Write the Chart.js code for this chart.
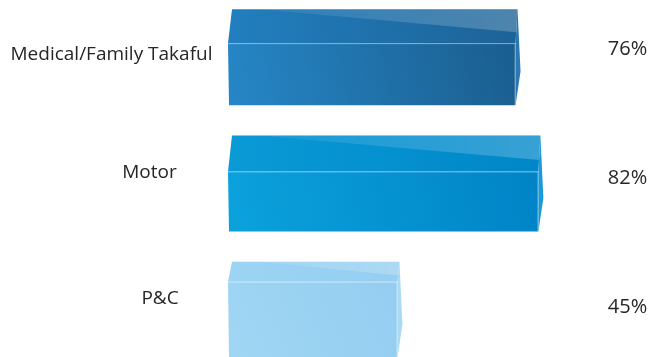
<!DOCTYPE html>
<html>
<head>
<meta charset="utf-8">
<script src="https://cdn.jsdelivr.net/npm/chart.js@4.4.1/dist/chart.umd.min.js"></script>
<style>
    html, body { margin: 0; padding: 0; background: #fff; overflow: hidden; }
    #wrap { position: relative; width: 654px; height: 357px; overflow: hidden; }
    #myChart { position: absolute; left: 0; top: -10px; }
</style>
</head>
<body>
<div id="wrap"><canvas id="myChart" width="654" height="400"></canvas></div>
<script>
'use strict';

const categories = ['Medical/Family Takaful', 'Motor', 'P&C'];
const shares = [76, 82, 45];
const shareLabels = shares.map(v => v + '%');

// look of each box: front gradient, top face, right side
const boxStyles = [
    { front: ['#2686c6', '#1a5d8e'], top: ['#227fbf', '#1c6296'], side: '#2a78b4', depth: 34 },
    { front: ['#0ba2dc', '#0083c6'], top: ['#0a9ad6', '#0086c8'], side: '#1c9ad6', depth: 36 },
    { front: ['#a0d6f4', '#93cdf0'], top: ['#9cd4f3', '#95cef1'], side: '#a8daf5', depth: 20 }
];
const labelX = [111.5, 149.5, 160];
const labelDy = [3, -5.5, -6];
const shareX = 627.5;
const shareDy = [-2, 0.5, 3];

const poly = function (ctx, pts) {
    ctx.beginPath();
    ctx.moveTo(pts[0][0], pts[0][1]);
    for (let k = 1; k < pts.length; k++) ctx.lineTo(pts[k][0], pts[k][1]);
    ctx.closePath();
};

const boxes = {
    id: 'boxes',
    afterDatasetsDraw(chart) {
        const ctx = chart.ctx;
        const meta = chart.getDatasetMeta(0);
        meta.data.forEach((bar, i) => {
            const p = bar.getProps(['x', 'y', 'base', 'height'], true);
            const st = boxStyles[i];
            const L = p.base, R = p.x;
            const T = p.y - p.height / 2, B = p.y + p.height / 2;
            const D = T + st.depth;
            ctx.save();

            // front face
            let g = ctx.createLinearGradient(L, B, R, D);
            g.addColorStop(0, st.front[0]);
            g.addColorStop(1, st.front[1]);
            poly(ctx, [[L - 2, D], [R - 4, D], [R - 4, B], [L - 1, B]]);
            ctx.fillStyle = g;
            ctx.fill();

            // top face
            g = ctx.createLinearGradient(L, D, R, T);
            g.addColorStop(0, st.top[0]);
            g.addColorStop(1, st.top[1]);
            poly(ctx, [[L + 2, T], [R - 2, T], [R - 4, D], [L - 2, D]]);
            ctx.fillStyle = g;
            ctx.fill();

            // glossy wedge on the back of the top face
            g = ctx.createLinearGradient(L, T, R, T);
            g.addColorStop(0, 'rgba(255,255,255,0.04)');
            g.addColorStop(1, 'rgba(255,255,255,0.22)');
            poly(ctx, [[L + 30, T], [R - 2, T], [R - 3, T + st.depth * 0.68]]);
            ctx.fillStyle = g;
            ctx.fill();

            // right side
            poly(ctx, [[R - 2, T], [R + 1, T + p.height * 0.65], [R - 4, B], [R - 4, D]]);
            ctx.fillStyle = st.side;
            ctx.fill();

            // edges
            ctx.strokeStyle = 'rgba(255,255,255,0.35)';
            ctx.lineWidth = 1;
            ctx.beginPath();
            ctx.moveTo(L - 2, D + 0.5);
            ctx.lineTo(R - 4, D + 0.5);
            ctx.moveTo(R - 4.5, D);
            ctx.lineTo(R - 4.5, B);
            ctx.stroke();
            ctx.restore();
        });

        // category names and shares
        ctx.save();
        ctx.fillStyle = '#262626';
        ctx.textBaseline = 'alphabetic';
        ctx.textAlign = 'center';
        meta.data.forEach((bar, i) => {
            ctx.font = '19px "Open Sans"';
            ctx.fillText(categories[i], labelX[i], bar.y + labelDy[i]);
            ctx.font = '20px "Open Sans"';
            ctx.fillText(shareLabels[i], shareX, bar.y + shareDy[i]);
        });
        ctx.restore();
    }
};

document.addEventListener('DOMContentLoaded', function () {
    const ctx = document.getElementById('myChart').getContext('2d');
    new Chart(ctx, {
        type: 'bar',
        data: {
            labels: categories,
            datasets: [{
                data: shares,
                backgroundColor: 'transparent',
                borderWidth: 0,
                barThickness: 96
            }]
        },
        options: {
            indexAxis: 'y',
            responsive: false,
            animation: false,
            layout: { padding: { left: 230, right: 24, top: 4, bottom: 17 } },
            plugins: { legend: { display: false }, tooltip: { enabled: false } },
            scales: {
                x: { display: false, min: 0, max: 105 },
                y: { display: false }
            }
        },
        plugins: [boxes]
    });
});
</script>
</body>
</html>
